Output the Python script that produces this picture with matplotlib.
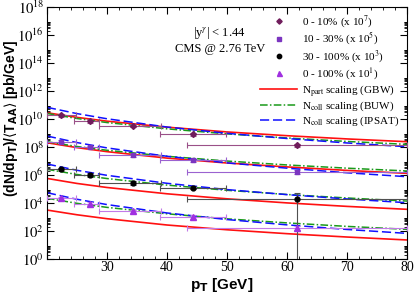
import matplotlib
matplotlib.use('Agg')
import matplotlib.pyplot as plt
import numpy as np
from matplotlib.lines import Line2D
from matplotlib.ticker import FixedLocator, FuncFormatter, MultipleLocator

plt.rcParams['font.family'] = ['Liberation Serif', 'DejaVu Serif']
plt.rcParams['mathtext.fontset'] = 'stix'

# CMS isolated photon points (unscaled, pb/GeV)
pt = [22.3, 27.2, 34.4, 44.4, 61.6]
pt_lo = [20.0, 24.5, 28.7, 38.9, 43.4]
pt_hi = [24.9, 28.7, 39.0, 49.9, 80.0]

cms_0_10 = [1950, 760, 330, 85, 13.8]
err_0_10 = [500, 230, 80, 22, 4]
cms_10_30 = [2400, 955, 270, 117, 17.4]
err_10_30 = [600, 280, 70, 30, 5]
cms_30_100 = [2690, 1000, 282, 123, 19.5]
err_30_100 = [700, 300, 75, 30, 36]
cms_0_100 = [2190, 850, 270, 105, 17.4]
err_0_100 = [550, 250, 70, 28, 5]

# model curves (unscaled)
pt_grid = [20, 25, 30, 40, 50, 60, 70, 80]
gbw_0_10 = [2820, 1318, 708, 263, 120, 64.6, 38.0, 24.0]
buw_0_10 = [2510, 1096, 562, 200, 87.1, 44.7, 25.1, 15.5]
ipsat_0_10 = [6920, 2455, 1050, 269, 95.5, 40.7, 19.5, 10.5]
gbw_10_30 = [2040, 912, 468, 162, 72.4, 38.0, 21.4, 13.2]
buw_10_30 = [2400, 1096, 589, 219, 100, 52.5, 30.9, 19.5]
ipsat_10_30 = [6170, 2089, 871, 219, 74.1, 30.9, 14.5, 7.59]
gbw_30_100 = [575, 251, 129, 45.7, 20.0, 10.2, 5.75, 3.55]
buw_30_100 = [2570, 1096, 562, 191, 81.3, 40.7, 22.9, 13.8]
ipsat_30_100 = [6170, 2188, 955, 257, 91.2, 39.8, 19.5, 10.5]
gbw_0_100 = [316, 145, 75.9, 26.9, 12.3, 6.46, 3.72, 2.29]
buw_0_100 = [2190, 955, 490, 170, 74.1, 38.0, 21.4, 13.2]
ipsat_0_100 = [5500, 1862, 776, 195, 66.1, 27.5, 12.9, 6.76]

scales = [1e7, 1e5, 1e3, 1e1]
labels = ['0 - 10% (x 10$^{7}$)', '10 - 30% (x 10$^{5}$)',
          '30 - 100% (x 10$^{3}$)', '0 - 100% (x 10$^{1}$)']

data = [cms_0_10, cms_10_30, cms_30_100, cms_0_100]
errs = [err_0_10, err_10_30, err_30_100, err_0_100]
gbw = [gbw_0_10, gbw_10_30, gbw_30_100, gbw_0_100]
buw = [buw_0_10, buw_10_30, buw_30_100, buw_0_100]
ipsat = [ipsat_0_10, ipsat_10_30, ipsat_30_100, ipsat_0_100]

mcol = ['#701c5c', '#7b35c0', 'black', '#a030e0']
ecol = ['#9a5088', '#9b62d0', '#505050', '#c27ae8']
marks = ['D', 's', 'o', '^']
msize = [3, 3, 3.5, 4]

fig = plt.figure(figsize=(4.15, 2.95), dpi=100)
ax = fig.add_axes([0.113, 0.122, 0.868, 0.854])

pt_a = np.array(pt)
xerr = [pt_a - np.array(pt_lo), np.array(pt_hi) - pt_a]

dash_dot = (0, (5, 1.5, 1, 1.5))
dashed = (0, (6, 2.5))

for i in range(4):
    s = scales[i]
    ax.plot(pt_grid, np.array(gbw[i]) * s, color='#ff1010', lw=1.2, zorder=2)
    ax.plot(pt_grid, np.array(buw[i]) * s, color='#1a9a1a', lw=1.1, ls=dash_dot, zorder=2)
    ax.plot(pt_grid, np.array(ipsat[i]) * s, color='#1010ff', lw=1.1, ls=dashed, zorder=2)
    ax.errorbar(pt, np.array(data[i]) * s, yerr=np.array(errs[i]) * s, xerr=xerr,
                fmt=marks[i], color=mcol[i], ecolor=ecol[i], ms=msize[i],
                elinewidth=0.8, capsize=2, capthick=0.8, zorder=3)

ax.set_yscale('log')
ax.set_xlim(20, 80)
ax.set_ylim(1, 1e18)

ax.yaxis.set_major_locator(FixedLocator([10.0 ** k for k in range(0, 19, 2)]))
ax.yaxis.set_minor_locator(FixedLocator([m * 10.0 ** k for k in range(0, 18, 2) for m in range(2, 10)]))
ax.yaxis.set_major_formatter(FuncFormatter(lambda v, p: r'$10^{%d}$' % int(round(np.log10(v)))))
ax.xaxis.set_major_locator(MultipleLocator(10))
ax.xaxis.set_minor_locator(MultipleLocator(2))
ax.xaxis.set_major_formatter(FuncFormatter(lambda v, p: '' if v == 20 else '%d' % v))
ax.tick_params(which='both', direction='in', top=True, right=True)
ax.tick_params(which='major', length=5, width=0.8)
ax.tick_params(which='minor', length=2.5, width=0.6)
ax.tick_params(axis='y', labelsize=10.5, pad=2)
ax.tick_params(axis='x', labelsize=10, pad=1.5)

ax.set_xlabel('p$_\\mathbf{T}$ [GeV]', family='Liberation Sans', fontweight='bold',
              fontsize=11, math_fontfamily='dejavusans')
ax.set_ylabel('(dN/dp$_\\mathbf{T}$)/$\\langle$T$_\\mathbf{AA}$$\\rangle$ [pb/GeV]',
              family='Liberation Sans', fontweight='bold', fontsize=10,
              math_fontfamily='dejavusans')
ax.xaxis.set_label_coords(0.486, -0.068)
ax.yaxis.set_label_coords(-0.076, 0.56)

ax.text(0.48, 0.897, r'|y$^{\gamma}$| < 1.44', transform=ax.transAxes,
        ha='center', va='center', fontsize=9)
ax.text(0.48, 0.833, 'CMS @ 2.76 TeV', transform=ax.transAxes,
        ha='center', va='center', fontsize=9)

handles = []
for i in range(4):
    handles.append(Line2D([], [], ls='none', marker=marks[i], color=mcol[i], ms=msize[i] * 0.9))
handles.append(Line2D([], [], color='#ff1010', lw=1.2))
handles.append(Line2D([], [], color='#1a9a1a', lw=1.1, ls=dash_dot))
handles.append(Line2D([], [], color='#1010ff', lw=1.1, ls=dashed))
leg_labels = labels + [r'N$_{\rm part}$ scaling (GBW)', r'N$_{\rm coll}$ scaling (BUW)',
                       r'N$_{\rm coll}$ scaling (IPSAT)']
ax.legend(handles, leg_labels, loc='upper right', bbox_to_anchor=(0.978, 0.975),
          frameon=False, fontsize=8, handlelength=3.3, handletextpad=0.45,
          labelspacing=0.1, borderpad=0, borderaxespad=0)

fig.savefig('out.png', dpi=100)
